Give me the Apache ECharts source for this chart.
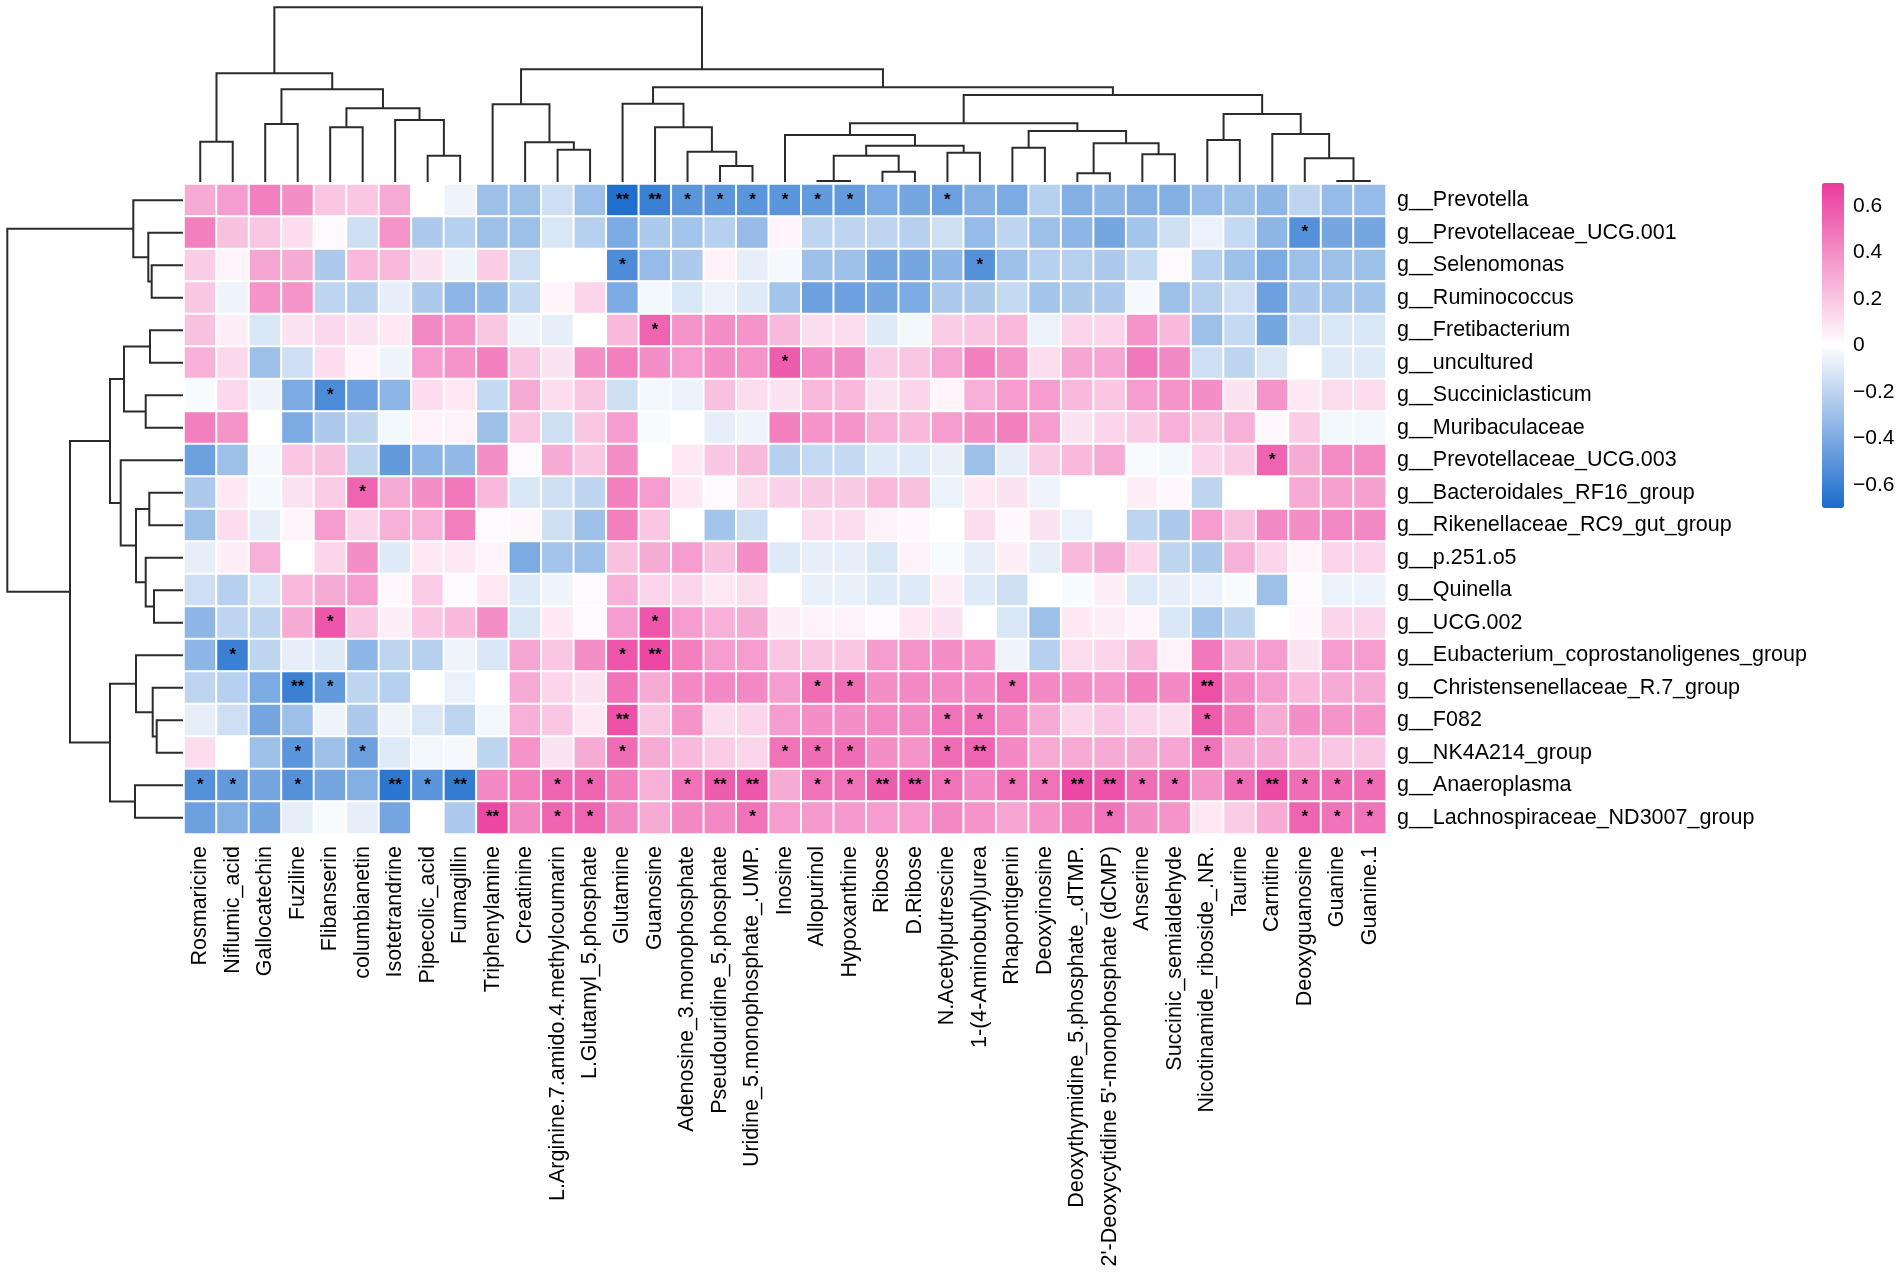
<!DOCTYPE html>
<html>
<head>
<meta charset="utf-8">
<title>Genus - metabolite correlation heatmap</title>
<script src="https://cdn.jsdelivr.net/npm/echarts@6/dist/echarts.min.js"></script>
<style>
  html, body { margin: 0; padding: 0; background: #fff; }
  #app { width: 1902px; height: 1275px; }
</style>
</head>
<body>
<div id="app"></div>
<script>
var metabolites = [
    'Rosmaricine', 'Niflumic_acid', 'Gallocatechin', 'Fuziline', 'Flibanserin', 'columbianetin',
    'Isotetrandrine', 'Pipecolic_acid', 'Fumagillin', 'Triphenylamine', 'Creatinine',
    'L.Arginine.7.amido.4.methylcoumarin', 'L.Glutamyl_5.phosphate', 'Glutamine', 'Guanosine',
    'Adenosine_3.monophosphate', 'Pseudouridine_5.phosphate', 'Uridine_5.monophosphate_.UMP.',
    'Inosine', 'Allopurinol', 'Hypoxanthine', 'Ribose', 'D.Ribose', 'N.Acetylputrescine',
    '1-(4-Aminobutyl)urea', 'Rhapontigenin', 'Deoxyinosine', 'Deoxythymidine_5.phosphate_.dTMP.',
    "2'-Deoxycytidine 5'-monophosphate (dCMP)", 'Anserine', 'Succinic_semialdehyde',
    'Nicotinamide_riboside_.NR.', 'Taurine', 'Carnitine', 'Deoxyguanosine', 'Guanine', 'Guanine.1'
];

var genera = [
    'g__Prevotella', 'g__Prevotellaceae_UCG.001', 'g__Selenomonas', 'g__Ruminococcus',
    'g__Fretibacterium', 'g__uncultured', 'g__Succiniclasticum', 'g__Muribaculaceae',
    'g__Prevotellaceae_UCG.003', 'g__Bacteroidales_RF16_group', 'g__Rikenellaceae_RC9_gut_group',
    'g__p.251.o5', 'g__Quinella', 'g__UCG.002', 'g__Eubacterium_coprostanoligenes_group',
    'g__Christensenellaceae_R.7_group', 'g__F082', 'g__NK4A214_group', 'g__Anaeroplasma',
    'g__Lachnospiraceae_ND3007_group'
];

// one row per genus, one value per metabolite (same order as above)
var corr = [
    [0.30,0.35,0.45,0.40,0.20,0.20,0.30,0.00,-0.05,-0.30,-0.30,-0.15,-0.30,-0.68,-0.60,-0.50,-0.50,-0.50,-0.50,-0.48,-0.48,-0.40,-0.42,-0.45,-0.38,-0.40,-0.22,-0.38,-0.35,-0.38,-0.38,-0.32,-0.30,-0.35,-0.20,-0.32,-0.32],
    [0.45,0.22,0.20,0.12,0.02,-0.15,0.38,-0.25,-0.22,-0.30,-0.30,-0.12,-0.22,-0.40,-0.25,-0.28,-0.22,-0.32,0.04,-0.20,-0.20,-0.20,-0.22,-0.15,-0.32,-0.20,-0.30,-0.35,-0.42,-0.28,-0.15,-0.06,-0.18,-0.35,-0.52,-0.42,-0.42],
    [0.18,0.04,0.32,0.30,-0.25,0.25,0.25,0.10,-0.05,0.18,-0.15,0.00,0.00,-0.55,-0.32,-0.25,0.05,-0.08,-0.03,-0.30,-0.30,-0.42,-0.42,-0.35,-0.52,-0.30,-0.22,-0.22,-0.25,-0.18,0.02,-0.22,-0.30,-0.40,-0.30,-0.30,-0.30],
    [0.20,-0.05,0.38,0.38,-0.20,-0.22,-0.08,-0.25,-0.35,-0.33,-0.18,0.04,0.15,-0.40,-0.04,-0.12,-0.06,-0.10,-0.28,-0.45,-0.45,-0.42,-0.40,-0.25,-0.25,-0.18,-0.28,-0.25,-0.25,-0.03,-0.30,-0.22,-0.15,-0.45,-0.25,-0.28,-0.28],
    [0.22,0.06,-0.12,0.10,0.14,0.10,0.08,0.42,0.38,0.20,-0.05,-0.08,0.00,0.25,0.55,0.38,0.40,0.38,0.25,0.12,0.12,-0.10,-0.04,0.18,0.20,0.25,-0.06,0.15,0.15,0.38,0.25,-0.30,-0.18,-0.42,-0.15,-0.12,-0.12],
    [0.28,0.14,-0.30,-0.15,0.12,0.04,-0.05,0.35,0.38,0.45,0.20,0.10,0.40,0.45,0.40,0.35,0.40,0.38,0.58,0.42,0.42,0.18,0.20,0.32,0.45,0.38,0.12,0.32,0.32,0.48,0.42,-0.15,-0.20,-0.12,0.00,-0.10,-0.10],
    [-0.02,0.14,-0.05,-0.40,-0.55,-0.45,-0.35,0.12,0.08,-0.18,0.30,0.12,0.20,-0.15,-0.04,-0.06,0.22,0.12,0.10,0.25,0.25,0.10,0.15,0.04,0.28,0.35,0.35,0.25,0.20,0.35,0.38,0.40,0.10,0.38,0.08,0.12,0.12],
    [0.45,0.38,0.00,-0.40,-0.25,-0.20,-0.04,0.05,0.05,-0.30,0.20,-0.15,0.20,0.35,-0.02,0.00,-0.08,-0.05,0.45,0.38,0.38,0.28,0.25,0.35,0.40,0.45,0.35,0.10,0.15,0.18,0.28,0.20,0.28,0.03,0.18,-0.04,-0.04],
    [-0.45,-0.30,-0.03,0.20,0.22,-0.20,-0.48,-0.35,-0.33,0.40,0.02,0.30,0.20,0.40,0.00,0.08,0.20,0.25,-0.22,-0.18,-0.18,-0.10,-0.10,-0.07,-0.30,-0.08,0.18,0.25,0.30,-0.02,-0.04,0.15,0.18,0.55,0.30,0.41,0.41],
    [-0.25,0.08,-0.03,0.10,0.18,0.55,0.30,0.40,0.48,0.25,-0.12,-0.15,-0.20,0.45,0.35,0.08,0.02,0.12,0.16,0.19,0.19,0.25,0.22,-0.06,0.08,0.10,-0.05,0.00,0.00,0.06,0.03,-0.20,0.00,0.00,0.30,0.33,0.33],
    [-0.30,0.12,-0.08,0.04,0.35,0.15,0.28,0.28,0.45,0.02,0.03,-0.15,-0.30,0.45,0.20,0.00,-0.28,-0.15,0.00,0.12,0.12,0.05,0.03,0.00,0.12,0.03,0.10,-0.06,0.00,-0.20,-0.25,0.35,0.22,0.42,0.40,0.42,0.42],
    [-0.08,0.06,0.28,0.00,0.15,0.40,-0.10,0.08,0.08,0.04,-0.40,-0.28,-0.30,0.22,0.30,0.35,0.22,0.40,-0.10,-0.08,-0.08,-0.12,0.05,-0.02,-0.08,0.06,-0.08,0.25,0.30,0.15,-0.20,-0.25,0.28,0.15,0.04,0.15,0.15],
    [-0.15,-0.22,-0.12,0.25,0.30,0.35,0.03,0.18,0.02,0.08,-0.10,-0.05,0.02,0.28,0.15,0.15,0.08,0.12,0.00,-0.07,-0.07,-0.10,-0.10,0.06,-0.10,-0.15,0.00,-0.02,0.06,-0.10,-0.08,-0.06,-0.02,-0.30,0.02,-0.06,-0.06],
    [-0.35,-0.20,-0.20,0.30,0.60,0.20,0.06,0.20,0.25,0.40,-0.12,0.08,0.02,0.35,0.60,0.35,0.28,0.30,0.06,0.05,0.05,0.02,0.08,0.10,0.00,-0.12,-0.30,0.08,0.06,0.04,-0.12,-0.28,-0.20,0.00,0.03,0.15,0.15],
    [-0.35,-0.60,-0.20,-0.08,-0.10,-0.35,-0.20,-0.22,-0.05,-0.12,0.32,0.20,0.40,0.60,0.65,0.45,0.35,0.35,0.20,0.20,0.20,0.35,0.38,0.40,0.38,-0.05,-0.22,0.12,0.15,0.25,0.05,0.48,0.30,0.35,0.10,0.35,0.35],
    [-0.20,-0.22,-0.40,-0.60,-0.48,-0.20,-0.22,0.00,-0.06,0.00,0.30,0.15,0.10,0.50,0.30,0.42,0.42,0.42,0.35,0.52,0.52,0.40,0.42,0.42,0.42,0.50,0.42,0.40,0.38,0.45,0.42,0.62,0.42,0.35,0.25,0.30,0.30],
    [-0.08,-0.15,-0.42,-0.30,-0.05,-0.25,-0.05,-0.12,-0.20,-0.04,0.28,0.20,0.08,0.62,0.20,0.38,0.12,0.15,0.35,0.40,0.40,0.42,0.42,0.50,0.50,0.42,0.30,0.15,0.20,0.15,0.12,0.58,0.45,0.30,0.40,0.38,0.38],
    [0.12,0.00,-0.30,-0.50,-0.30,-0.45,-0.10,-0.04,-0.03,-0.20,0.38,0.10,0.30,0.52,0.30,0.25,0.18,0.15,0.50,0.52,0.52,0.40,0.38,0.52,0.55,0.42,0.30,0.30,0.30,0.30,0.32,0.50,0.30,0.30,0.25,0.20,0.20],
    [-0.52,-0.48,-0.42,-0.52,-0.42,-0.38,-0.65,-0.50,-0.62,0.42,0.45,0.55,0.55,0.45,0.28,0.50,0.58,0.60,0.30,0.50,0.50,0.58,0.60,0.50,0.42,0.50,0.50,0.65,0.62,0.52,0.52,0.38,0.52,0.65,0.52,0.52,0.52],
    [-0.45,-0.38,-0.42,-0.08,-0.02,-0.08,-0.42,0.00,-0.25,0.65,0.42,0.55,0.55,0.42,0.30,0.42,0.42,0.50,0.35,0.36,0.36,0.35,0.35,0.42,0.38,0.32,0.38,0.45,0.50,0.40,0.38,0.08,0.18,0.30,0.55,0.50,0.50]
];

// significance marks: [genus row, metabolite column, mark]
var stars = [
    [0,13,'**'],[0,14,'**'],[0,15,'*'],[0,16,'*'],[0,17,'*'],[0,18,'*'],[0,19,'*'],[0,20,'*'],[0,23,'*'],
    [1,34,'*'],
    [2,13,'*'],[2,24,'*'],
    [4,14,'*'],
    [5,18,'*'],
    [6,4,'*'],
    [8,33,'*'],
    [9,5,'*'],
    [13,4,'*'],[13,14,'*'],
    [14,1,'*'],[14,13,'*'],[14,14,'**'],
    [15,3,'**'],[15,4,'*'],[15,19,'*'],[15,20,'*'],[15,25,'*'],[15,31,'**'],
    [16,13,'**'],[16,23,'*'],[16,24,'*'],[16,31,'*'],
    [17,3,'*'],[17,5,'*'],[17,13,'*'],[17,18,'*'],[17,19,'*'],[17,20,'*'],[17,23,'*'],[17,24,'**'],[17,31,'*'],
    [18,0,'*'],[18,1,'*'],[18,3,'*'],[18,6,'**'],[18,7,'*'],[18,8,'**'],[18,11,'*'],[18,12,'*'],
    [18,15,'*'],[18,16,'**'],[18,17,'**'],[18,19,'*'],[18,20,'*'],[18,21,'**'],[18,22,'**'],[18,23,'*'],
    [18,25,'*'],[18,26,'*'],[18,27,'**'],[18,28,'**'],[18,29,'*'],[18,30,'*'],[18,32,'*'],[18,33,'**'],
    [18,34,'*'],[18,35,'*'],[18,36,'*'],
    [19,9,'**'],[19,11,'*'],[19,12,'*'],[19,17,'*'],[19,28,'*'],[19,34,'*'],[19,35,'*'],[19,36,'*']
];

// column clustering: [node, left child, right child, merge height]; numbers are leaf columns
var colTree = [
    ['c01', 0, 1, 40.3], ['c23', 2, 3, 58], ['c45', 4, 5, 54.7], ['c78', 7, 8, 26.3],
    ['c6_8', 6, 'c78', 62], ['c4_8', 'c45', 'c6_8', 73.7], ['c2_8', 'c23', 'c4_8', 92.7],
    ['c0_8', 'c01', 'c2_8', 108.7],
    ['c1112', 11, 12, 32.3], ['c10_12', 10, 'c1112', 39.7], ['c9_12', 9, 'c10_12', 77.7],
    ['c1617', 16, 17, 16], ['c15_17', 15, 'c1617', 30.3], ['c14_17', 14, 'c15_17', 54.7],
    ['c13_17', 13, 'c14_17', 78.3],
    ['c1920', 19, 20, 1], ['c2122', 21, 22, 10.3], ['c19_22', 'c1920', 'c2122', 26.3],
    ['c2324', 23, 24, 29.3], ['c19_24', 'c19_22', 'c2324', 36.3], ['c18_24', 18, 'c19_24', 47],
    ['c2526', 25, 26, 34.3], ['c2728', 27, 28, 8.7], ['c2930', 29, 30, 27.7],
    ['c27_30', 'c2728', 'c2930', 38.7], ['c25_30', 'c2526', 'c27_30', 51],
    ['c18_30', 'c18_24', 'c25_30', 58.7],
    ['c3132', 31, 32, 42], ['c3536', 35, 36, 1], ['c34_36', 34, 'c3536', 23.7],
    ['c33_36', 33, 'c34_36', 48], ['c31_36', 'c3132', 'c33_36', 68],
    ['c18_36', 'c18_30', 'c31_36', 87], ['c13_36', 'c13_17', 'c18_36', 94.7],
    ['c9_36', 'c9_12', 'c13_36', 112.7], ['croot', 'c0_8', 'c9_36', 174.7]
];

// row clustering, same layout; numbers are leaf rows
var rowTree = [
    ['r23', 2, 3, 31.3], ['r1_3', 1, 'r23', 34.7], ['r0_3', 0, 'r1_3', 49.7],
    ['r45', 4, 5, 33], ['r67', 6, 7, 37.3], ['r4_7', 'r45', 'r67', 59],
    ['r910', 9, 10, 33.7], ['r1213', 12, 13, 29], ['r11_13', 11, 'r1213', 37.3],
    ['r9_13', 'r910', 'r11_13', 47], ['r8_13', 8, 'r9_13', 62.3], ['r4_13', 'r4_7', 'r8_13', 73],
    ['r1617', 16, 17, 26.3], ['r15_17', 15, 'r1617', 30.3], ['r14_17', 14, 'r15_17', 47],
    ['r1819', 18, 19, 48], ['r14_19', 'r14_17', 'r1819', 73],
    ['r4_19', 'r4_13', 'r14_19', 113], ['rroot', 'r0_3', 'r4_19', 175.7]
];

var scaleTicks = [-0.6, -0.4, -0.2, 0, 0.2, 0.4, 0.6];

var FONT = '"Liberation Sans", Arial, Helvetica, sans-serif';

var starMap = {};
stars.forEach(function (s) { starMap[s[0] + '_' + s[1]] = s[2]; });

var cells = [];
corr.forEach(function (row, r) {
    row.forEach(function (v, c) { cells.push([c, r, v]); });
});

// turn a merge list into bracket polylines; flip=true puts height on x
function dendro(tree, flip) {
    var pos = {}, hgt = {}, out = [];
    tree.forEach(function (n) {
        var a = n[1], b = n[2], h = n[3];
        var pa = typeof a === 'number' ? a : pos[a];
        var pb = typeof b === 'number' ? b : pos[b];
        var ha = typeof a === 'number' ? 0 : hgt[a];
        var hb = typeof b === 'number' ? 0 : hgt[b];
        pos[n[0]] = (pa + pb) / 2;
        hgt[n[0]] = h;
        var pts = [[pa, ha], [pa, h], [pb, h], [pb, hb]];
        if (flip) pts = pts.map(function (p) { return [p[1], p[0]]; });
        out.push({ coords: pts });
    });
    return out;
}

var chart = echarts.init(document.getElementById('app'));

chart.setOption({
    animation: false,
    backgroundColor: '#fff',
    textStyle: { fontFamily: FONT },
    grid: [
        { left: 184, top: 184, width: 1202, height: 650, outerBoundsMode: 'none' },
        { left: 184, top: 0, width: 1202, height: 182, outerBoundsMode: 'none' },
        { left: 0, top: 184, width: 183, height: 650, outerBoundsMode: 'none' },
        { left: 1822, top: 183, width: 22, height: 325, outerBoundsMode: 'none' }
    ],
    xAxis: [
        {
            type: 'category', gridIndex: 0, data: metabolites, position: 'bottom',
            axisLine: { show: false }, axisTick: { show: false }, splitLine: { show: false },
            axisLabel: { rotate: 90, interval: 0, margin: 12, fontSize: 21.5, color: '#000', fontFamily: FONT }
        },
        { type: 'value', gridIndex: 1, min: -0.5, max: 36.5, show: false },
        { type: 'value', gridIndex: 2, min: 0, max: 183, inverse: true, show: false },
        { type: 'value', gridIndex: 3, min: 0, max: 1, show: false }
    ],
    yAxis: [
        {
            type: 'category', gridIndex: 0, data: genera, inverse: true, position: 'right',
            axisLine: { show: false }, axisTick: { show: false }, splitLine: { show: false },
            axisLabel: { interval: 0, margin: 11, fontSize: 21.5, color: '#000', fontFamily: FONT }
        },
        { type: 'value', gridIndex: 1, min: 0, max: 182, show: false },
        { type: 'value', gridIndex: 2, min: -0.5, max: 19.5, inverse: true, show: false },
        {
            type: 'value', gridIndex: 3, min: -0.7, max: 0.7, interval: 0.1, position: 'right',
            axisLine: { show: false }, axisTick: { show: false }, splitLine: { show: false },
            axisLabel: {
                margin: 9, fontSize: 21, color: '#000', fontFamily: FONT,
                formatter: function (v) {
                    var t = Math.round(v * 10) / 10;
                    if (scaleTicks.indexOf(t) < 0) return '';
                    return t < 0 ? '\u2212' + Math.abs(t) : String(t);
                }
            }
        }
    ],
    visualMap: {
        type: 'continuous',
        seriesIndex: 0,
        min: -0.7,
        max: 0.7,
        orient: 'vertical',
        left: 1822,
        top: 183,
        itemWidth: 22,
        itemHeight: 325,
        padding: 0,
        calculable: false,
        hoverLink: false,
        inRange: { color: ['#1a6bcc', '#ffffff', '#ea3a9c'] }
    },
    series: [
        {
            type: 'heatmap',
            xAxisIndex: 0,
            yAxisIndex: 0,
            data: cells,
            itemStyle: { borderColor: '#fff', borderWidth: 2 },
            label: {
                show: true,
                color: '#000',
                fontSize: 17,
                fontWeight: 'bold',
                fontFamily: FONT,
                formatter: function (p) {
                    return starMap[p.value[1] + '_' + p.value[0]] || '';
                }
            },
            emphasis: { disabled: true }
        },
        {
            type: 'lines',
            coordinateSystem: 'cartesian2d',
            xAxisIndex: 1,
            yAxisIndex: 1,
            polyline: true,
            silent: true,
            lineStyle: { color: '#2b2b2b', width: 2, opacity: 1 },
            data: dendro(colTree, false)
        },
        {
            type: 'lines',
            coordinateSystem: 'cartesian2d',
            xAxisIndex: 2,
            yAxisIndex: 2,
            polyline: true,
            silent: true,
            lineStyle: { color: '#2b2b2b', width: 2, opacity: 1 },
            data: dendro(rowTree, true)
        }
    ]
});
</script>
</body>
</html>
